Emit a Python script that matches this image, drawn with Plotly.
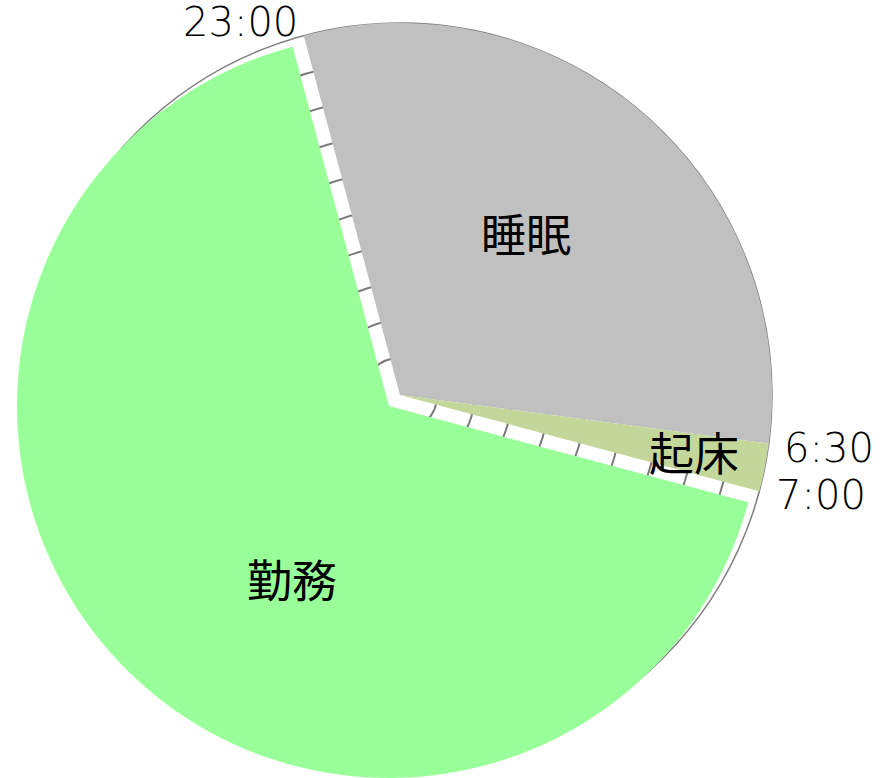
import plotly.graph_objects as go

W, H = 889, 778

# ---- data ----
activities = ["睡眠", "起床", "勤務"]
hours = [7.5, 0.5, 16]
colors = ["#C0C0C0", "#C4D79B", "#99FF99"]
boundary_labels = ["23:00", "6:30", "7:00"]
start_hour = 23

# ---- geometry (pixels) ----
cx, cy, R = 400, 395, 372
pdx, pdy = -11, 11   # offset of the pulled-out slice


def dom(x, y, r):
    return dict(x=[max(0, (x - r) / W), min(1, (x + r) / W)],
                y=[max(0, 1 - (y + r) / H), min(1, 1 - (y - r) / H)])


rotation = start_hour / 24 * 360 - 360
transparent = "rgba(0,0,0,0)"

fig = go.Figure()

# background clock face with concentric rings
fig.add_trace(go.Scatterpolar(r=[], theta=[], subplot="polar",
                              showlegend=False, hoverinfo="skip"))

# sleep & wake slices
fig.add_trace(go.Pie(
    labels=activities, values=hours, sort=False, direction="clockwise",
    rotation=rotation, textinfo="none", showlegend=False,
    marker=dict(colors=[colors[0], colors[1], transparent], line=dict(width=0)),
    domain=dom(cx, cy, R)))

# work slice, pulled out
fig.add_trace(go.Pie(
    labels=activities, values=hours, sort=False, direction="clockwise",
    rotation=rotation, textinfo="none", showlegend=False,
    marker=dict(colors=[transparent, transparent, colors[2]], line=dict(width=0)),
    domain=dom(cx + pdx, cy + pdy, R)))

cjk = "Noto Sans CJK JP"
num_font = dict(family="DejaVu Sans", size=40, color="black", weight=200)
lab_font = dict(family=cjk, size=45, color="black")

label_pos = [(526, 232), (694, 451), (292, 578)]
time_pos = [(240, 22), (829, 448), (821, 495)]

annotations = []
for txt, (x, y) in zip(activities, label_pos):
    annotations.append(dict(text=txt, x=x / W, y=1 - y / H, xref="paper", yref="paper",
                            showarrow=False, font=lab_font, xanchor="center", yanchor="middle"))
for txt, (x, y) in zip(boundary_labels, time_pos):
    annotations.append(dict(text=txt, x=x / W, y=1 - y / H, xref="paper", yref="paper",
                            showarrow=False, font=num_font, xanchor="center", yanchor="middle"))

fig.update_layout(
    width=W, height=H,
    margin=dict(l=0, r=0, t=0, b=0),
    paper_bgcolor="white", plot_bgcolor="white",
    showlegend=False,
    polar=dict(
        domain=dom(cx, cy, R), bgcolor="white",
        radialaxis=dict(range=[0, 10], dtick=1, showticklabels=False, ticks="",
                        showline=False, gridcolor="#7a7a7a", gridwidth=2),
        angularaxis=dict(showgrid=False, showticklabels=False, ticks="",
                         showline=True, linecolor="#808080", linewidth=1.5),
    ),
    annotations=annotations,
)

fig.write_html("out.html")
